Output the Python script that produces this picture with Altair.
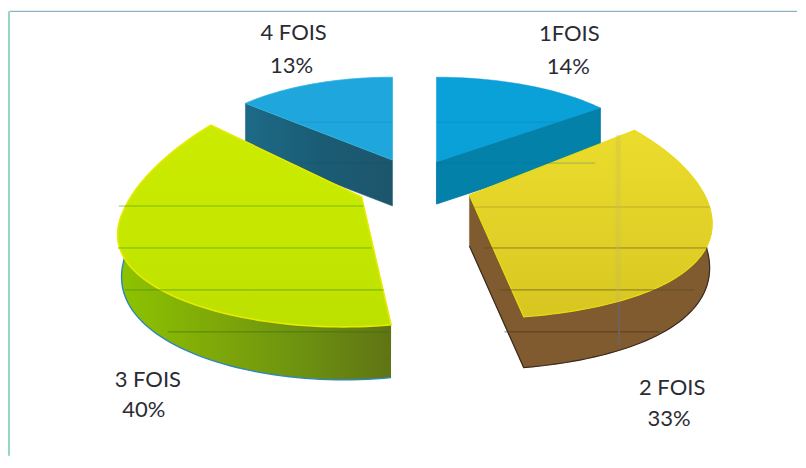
import math
import altair as alt

CATEGORIES = ["1FOIS", "2 FOIS", "3 FOIS", "4 FOIS"]
PERCENTS = [14, 33, 40, 13]
LABEL_LINE_1 = ["1FOIS", "2 FOIS", "3 FOIS", "4 FOIS"]
LABEL_LINE_2 = ["14%", "33%", "40%", "13%"]

# Camera model of each exploded slice: apex on page, ellipse radii, perspective, wall depth
GEOM = {
    "1FOIS":  dict(ax=437, ay=162, rx=213, pb=0, pf=0, sx=0, sy=0, ryb=85, ryf=85, d=42),
    "2 FOIS": dict(ax=470, ay=195, rx=239, pb=.18, pf=.18, sx=0, sy=8, ryb=114, ryf=116, d=51),
    "3 FOIS": dict(ax=362, ay=197, rx=221, pb=.344, pf=.13, sx=-18, sy=15, ryb=127, ryf=115, d=53),
    "4 FOIS": dict(ax=393, ay=160, rx=202, pb=0, pf=0, sx=0, sy=0, ryb=83, ryf=83, d=46),
}
M = 8  # page margin


def spans():
    out, c = {}, 0
    for n, p in zip(CATEGORIES, PERCENTS):
        out[n] = (c * 3.6, (c + p) * 3.6)
        c += p
    return out


SP = spans()


def pt(name, deg):
    g = GEOM[name]
    t = math.radians(deg)
    s, c = math.sin(t), math.cos(t)
    p = g["pf"] + (g["pb"] - g["pf"]) * (c + 1) / 2
    ry = g["ryb"] if c >= 0 else g["ryf"]
    return (g["ax"] + g["sx"] + g["rx"] * s / (1 + p * c), g["ay"] + g["sy"] - ry * c)


def arc(name, a, b, n=50):
    return [pt(name, a + (b - a) * i / n) for i in range(n + 1)]


def rim(name, a, b, taper, inset, n=50):
    """Lower rim of the outer wall: it recedes slightly from the viewer at the sides."""
    g = GEOM[name]
    out = []
    for i in range(n + 1):
        deg = a + (b - a) * i / n
        x, y = pt(name, deg)
        t = math.radians(deg)
        ac = abs(math.cos(t))
        sgn = 1 if math.sin(t) < 0 else -1
        out.append((x + sgn * inset * (1 - ac), y + g["d"] * ((1 - taper) + taper * ac)))
    return out


PROJ = alt.Projection(type="identity", reflectY=True, scale=1, translate=[0, 0])


def geo(kind, pts):
    c = [[x - M, -(y - M)] for x, y in pts]
    if kind == "Polygon":
        c = [c + [c[0]]]
    return {"type": "Feature", "properties": {}, "geometry": {"type": kind, "coordinates": c}}


def poly(pts, **kw):
    return alt.Chart(alt.Data(values=[geo("Polygon", pts)])).mark_geoshape(**kw).project(**PROJ.to_dict())


def line(pts, color, w=1.0, op=1.0):
    return alt.Chart(alt.Data(values=[geo("LineString", pts)])).mark_geoshape(
        filled=False, stroke=color, strokeWidth=w, opacity=op
    ).project(**PROJ.to_dict())


def grad(*cols, vertical=False):
    n = len(cols) - 1
    return alt.Gradient(gradient="linear", x1=0, x2=0 if vertical else 1, y1=0, y2=1 if vertical else 0,
                        stops=[alt.GradientStop(offset=i / n, color=c) for i, c in enumerate(cols)])


layers = []


def apex(n):
    return (GEOM[n]["ax"], GEOM[n]["ay"])


# 4 FOIS
n = "4 FOIS"
a, b = SP[n]
tp = arc(n, a, b)
ap = apex(n)
layers.append(poly([tp[0], ap, (ap[0], ap[1] + GEOM[n]["d"]), (tp[0][0], tp[0][1] + GEOM[n]["d"])],
                   fill=grad("#1d6a88", "#1a5c74", "#1d566c"), stroke="#1d6078", strokeWidth=0.5))
layers.append(poly(tp + [ap], fill="#1fa6dc", stroke="#35b4e0", strokeWidth=0.8))

# 1FOIS
n = "1FOIS"
a, b = SP[n]
tp = arc(n, a, b)
ap = apex(n)
layers.append(poly([ap, tp[-1], (tp[-1][0], tp[-1][1] + GEOM[n]["d"]), (ap[0], ap[1] + GEOM[n]["d"])],
                   fill="#0481a8", stroke="#0670a8", strokeWidth=0.8))
layers.append(poly([ap] + tp, fill="#0aa0d8", stroke="#0d98cf", strokeWidth=0.5))

# 3 FOIS
n = "3 FOIS"
a, b = SP[n]
d = GEOM[n]["d"]
tp = arc(n, a, b, 80)
wall = arc(n, a, 276, 60)
low = rim(n, a, 276, .3, 5, 60)
layers.append(poly(wall + low[::-1], fill=grad("#8dc400", "#80aa08", "#6d9210", "#5f7414")))
layers.append(line(low, "#2f86b8", 1.4))
layers.append(poly([apex(n)] + tp, fill=grad("#cbec00", "#c6e800", "#bce000", vertical=True),
                   stroke="#e6ea00", strokeWidth=1.6))

# 2 FOIS
n = "2 FOIS"
a, b = SP[n]
d = GEOM[n]["d"]
tp = arc(n, a, b, 80)
ap = apex(n)
wall = arc(n, 84, b, 50)
low = rim(n, 84, b, .2, 3, 50)
BROWN = "#7f5b2f"
layers.append(poly(wall + [ap, (ap[0], ap[1] + d)] + low[::-1], fill=BROWN, stroke=BROWN, strokeWidth=0.4))
layers.append(line(low + [(ap[0], ap[1] + d)], "#3c2a20", 1.2))
layers.append(poly([ap] + tp, fill=grad("#ecdc2c", "#e2d228", "#d6c620", vertical=True),
                   stroke="#e8dc10", strokeWidth=1.2))

# scanner streaks on the printed slices
STREAKS = [
    (119, 364, 206, "#3f9a10", .6), (118, 372, 248, "#3f9a10", .6), (125, 384, 290, "#3f8a10", .6),
    (168, 390, 332, "#3a6a10", .6), (473, 711, 207, "#8a7a30", .4), (484, 709, 248, "#5a5020", .6),
    (500, 695, 290, "#5a4a20", .65), (505, 660, 332, "#3c2a18", .55),
    (437, 560, 122, "#0a80b8", .35), (437, 596, 163, "#0a6a90", .35),
    (300, 393, 122, "#0a88c0", .35), (300, 391, 163, "#14506a", .35),
]
for x1, x2, y, col, op in STREAKS:
    layers.append(alt.Chart(alt.Data(values=[{"k": 0}])).mark_rule(color=col, opacity=op, strokeWidth=1).encode(
        x=alt.value(x1 - M), x2=alt.value(x2 - M), y=alt.value(y - M)))
layers.append(alt.Chart(alt.Data(values=[{"k": 0}])).mark_rule(color="#c8b860", opacity=.3, strokeWidth=5).encode(
    x=alt.value(619 - M), y=alt.value(135 - M), y2=alt.value(302 - M)))
layers.append(alt.Chart(alt.Data(values=[{"k": 0}])).mark_rule(color="#6e6468", opacity=.8, strokeWidth=2).encode(
    x=alt.value(620 - M), y=alt.value(303 - M), y2=alt.value(346 - M)))

# frame of the scanned figure
layers.append(alt.Chart(alt.Data(values=[{"k": 0}])).mark_rule(color="#6f9fb0", strokeWidth=1.2, opacity=.8).encode(
    x=alt.value(10 - M), x2=alt.value(798 - M), y=alt.value(11 - M)))
layers.append(alt.Chart(alt.Data(values=[{"k": 0}])).mark_rule(color="#4fb89a", strokeWidth=1.4, opacity=.85).encode(
    x=alt.value(9 - M), y=alt.value(11 - M), y2=alt.value(456 - M)))

# labels
LABEL_POS = {
    "1FOIS": ((570, 41), (569, 74)),
    "2 FOIS": ((673, 395), (670, 426)),
    "3 FOIS": ((148, 387), (144, 417)),
    "4 FOIS": ((294, 40), (292, 73)),
}
for cat, l1, l2 in zip(CATEGORIES, LABEL_LINE_1, LABEL_LINE_2):
    for txt, (x, y) in zip((l1, l2), LABEL_POS[cat]):
        layers.append(alt.Chart(alt.Data(values=[{"t": txt}])).mark_text(
            font="Lato", fontSize=22, color="#2b2b33", align="center", baseline="alphabetic"
        ).encode(x=alt.value(x - M), y=alt.value(y - M), text="t:N"))

chart = alt.layer(*layers).properties(width=780, height=440, padding=0, background="white").configure_view(stroke=None)
chart.save("out.html", embed_options={"renderer": "svg", "actions": False})
